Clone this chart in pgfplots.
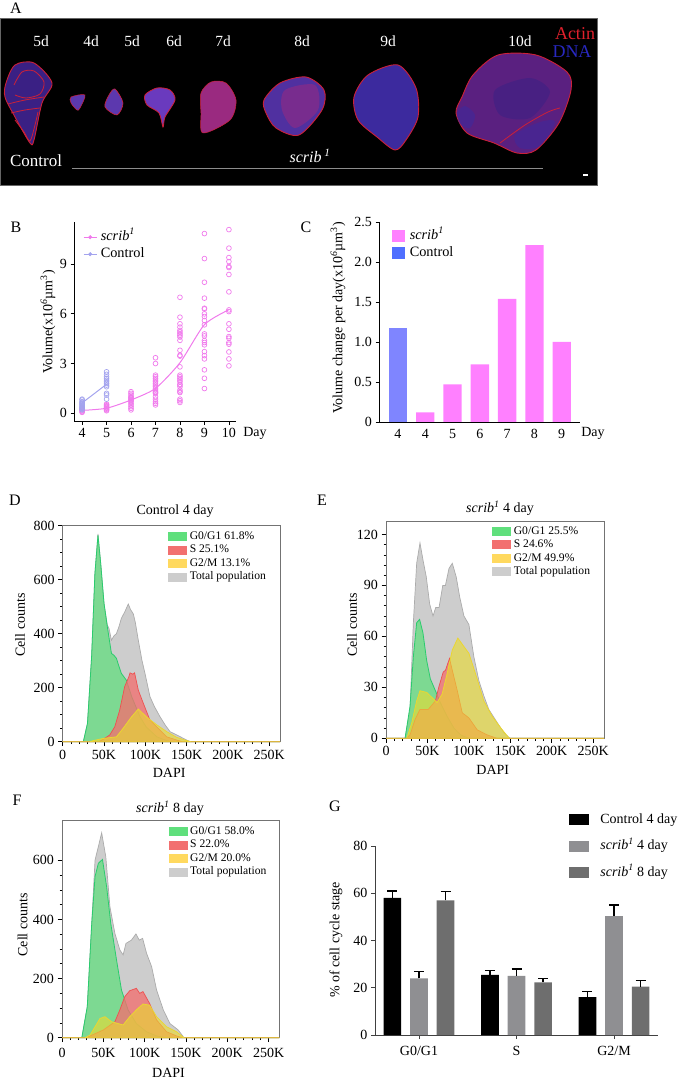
\documentclass[border=0pt]{standalone}
\usepackage{fontspec}
\setmainfont{Liberation Serif}
\usepackage{pgfplots}
\pgfplotsset{compat=1.18}

\definecolor{pinkl}{HTML}{F07AEC}
\definecolor{bluel}{HTML}{A3A3EE}
\definecolor{pinkb}{HTML}{FF80FF}
\definecolor{blueb}{HTML}{7F85FF}
\definecolor{bluesw}{HTML}{4F6FFF}
\definecolor{gL}{HTML}{5FDF7C}
\definecolor{rL}{HTML}{F27070}
\definecolor{yL}{HTML}{FFD95F}
\definecolor{yA}{HTML}{EADB30}
\definecolor{tL}{HTML}{CDCDCD}
\definecolor{gD}{HTML}{2BCB6E}
\definecolor{rD}{HTML}{EE5050}
\definecolor{yD}{HTML}{EBD630}
\definecolor{tD}{HTML}{ABABAB}
\definecolor{barB}{HTML}{8F8F92}
\definecolor{barC}{HTML}{6E6E6E}
\definecolor{edge}{HTML}{CC2038}
\definecolor{c0}{HTML}{3A2084}
\definecolor{c1}{HTML}{5C38AE}
\definecolor{c2}{HTML}{6A3ABE}
\definecolor{c3}{HTML}{9A2A80}
\definecolor{c4}{HTML}{5030A0}
\definecolor{c5}{HTML}{3C2A9E}
\definecolor{c6}{HTML}{5A2080}

\newcommand{\fs}[1]{\fontsize{#1}{#1}\selectfont}
\newcommand{\scrib}{\textit{scrib}\textsuperscript{\textit{1}}}

\pgfplotsset{
  panel/.style={
    scale only axis,
    /pgf/number format/assume math mode=true,
    tick label style={font=\fs{14}},
    label style={font=\fs{14}},
    legend cell align=left,
  },
  sw/.style 2 args={legend image code/.code={\fill[##1,draw=none] (0pt,-#2) rectangle (#1,#2);}},
  hist/.style={
    panel, xmin=0, xmax=263, ymin=0,
    xtick={0,50,100,150,200,250},
    xticklabels={0,50K,100K,150K,200K,250K},
    minor x tick num=4, minor y tick num=3,
    xtick pos=bottom, ytick pos=left, tick align=outside,
    axis line style={color=black!55, line width=.7pt},
    tick style={color=black, line width=.6pt},
    major tick length=4.5pt, minor tick length=2.5pt,
    xlabel={DAPI}, ylabel={Cell counts},
    clip=false, sw={19pt}{4.5pt},
    legend style={anchor=north west, draw=none, fill=none, inner sep=0pt,
      font=\fs{11.6}, row sep=3pt,
      nodes={text height=8pt, text depth=2.5pt, inner ysep=0pt, inner xsep=2.5pt}},
  },
  gfill/.style={fill=gL, fill opacity=.72, draw=gD, line width=.8pt},
  rfill/.style={fill=rL, fill opacity=.78, draw=rD, line width=.7pt},
  yfill/.style={fill=yA, fill opacity=.62, draw=yD, line width=.8pt},
  tfill/.style={fill=tL, draw=tD, line width=.7pt},
  blob/.style={smooth cycle, fill=#1, draw=edge, line width=.9pt},
  patch/.style={smooth cycle, fill=#1, fill opacity=.55, draw=none, forget plot},
  redline/.style={smooth, draw=edge, line width=.8pt, forget plot},
}

\begin{document}
\begin{tikzpicture}
\path[use as bounding box] (0pt,0pt) rectangle (680pt,1080pt);

% panel letters, page coordinates
\node[font=\fs{16}] at (16pt,1072pt) {A};
\node[font=\fs{16}] at (16pt,853pt) {B};
\node[font=\fs{16}] at (306pt,853pt) {C};
\node[font=\fs{16}] at (15pt,580pt) {D};
\node[font=\fs{16}] at (322pt,580pt) {E};
\node[font=\fs{16}] at (17pt,280pt) {F};
\node[font=\fs{16}] at (335pt,274pt) {G};

% A: micrograph strip, traced in pixel coordinates
\begin{axis}[
  at={(0pt,895pt)}, anchor=south west, scale only axis,
  width=597pt, height=167pt,
  xmin=0, xmax=597, ymin=18, ymax=185, y dir=reverse,
  ticks=none, axis line style={color=black!60},
  axis background/.style={fill=black},
]
\addplot[blob=c0] coordinates {(6,83)(15,65)(34,63)(52,83)(42,103)(34,140)(30,143)(15,117)(5,97)};
\addplot[redline] coordinates {(14,85)(22,72)(34,71)(44,82)(40,94)(26,98)(15,95)};
\addplot[redline] coordinates {(8,104)(25,100)(44,97)};
\addplot[redline] coordinates {(11,113)(25,110)(40,108)};
\addplot[redline] coordinates {(15,120)(24,132)(30,141)(35,125)(38,112)};
\addplot[blob=c1, line width=.5pt] coordinates {(71,97)(85,95)(80,108)(77,110)(71,103)};
\addplot[blob=c1, line width=.6pt] coordinates {(115,89)(123,103)(117,115)(105,107)(109,95)};
\addplot[blob=c2, line width=.8pt] coordinates {(145,95)(157,88)(170,90)(175,100)(165,117)(163,127)(159,113)(147,105)};
\addplot[blob=c3, line width=.5pt] coordinates {(201,93)(211,82)(226,83)(236,100)(230,120)(203,133)(201,113)};
\addplot[blob=c4] coordinates {(264,100)(280,83)(306,77)(324,90)(322,110)(299,135)(276,128)(266,113)};
\addplot[patch=c3] coordinates {(285,90)(315,85)(318,110)(295,128)(282,110)};
\addplot[blob=c5] coordinates {(354,97)(368,75)(398,65)(416,88)(418,117)(406,140)(395,150)(377,137)(358,120)};
\addplot[blob=c6] coordinates {(498,55)(536,55)(567,72)(571,90)(559,123)(536,150)(517,153)(494,143)(467,133)(456,113)(462,97)(473,75)};
\addplot[patch=c5] coordinates {(457,113)(465,106)(475,115)(470,128)(460,124)};
\addplot[patch=c5] coordinates {(515,135)(540,122)(555,122)(540,146)(520,148)};
\addplot[patch=c0] coordinates {(495,90)(530,78)(550,92)(530,118)(500,115)};
\addplot[redline] coordinates {(500,143)(525,125)(548,112)(560,108)};
\addplot[color=black!45, line width=.8pt] coordinates {(72,168)(543,168)};
\addplot[color=white, line width=1.2pt] coordinates {(583,175)(588,175)};
\foreach \lx/\lab in {41/5d,91/4d,132/5d,174/6d,223/7d,302/8d,388/9d,520/10d}{
  \edef\tmp{\noexpand\node[text=white,font=\noexpand\fs{15.5}] at (axis cs:\lx,41) {\lab};}\tmp
}
\definecolor{actin}{HTML}{E0202C}
\definecolor{dna}{HTML}{2828C0}
\node[text=actin,font=\fs{18}] at (axis cs:575,34) {Actin};
\node[text=dna,font=\fs{18}] at (axis cs:572,52) {DNA};
\node[text=white,font=\fs{17}] at (axis cs:36,161) {Control};
\node[text=white,font=\fs{16}] at (axis cs:310,156) {\textit{scrib}\,\textsuperscript{\textit{1}}};
\end{axis}

% B
\begin{axis}[
  panel, at={(74pt,658.5pt)}, anchor=south west,
  width=162pt, height=199.5pt,
  xmin=3.67, xmax=10.29, ymin=-0.5, ymax=11.55,
  xtick={4,5,6,7,8,9,10}, ytick={0,3,6,9},
  axis lines=left, axis line style={-, line width=.9pt},
  tick align=outside, tick style={color=black, line width=.8pt}, major tick length=3.5pt,
  ylabel={Volume(x10\textsuperscript{\textit{6}}µm\textsuperscript{3})},
  ylabel style={at={(axis description cs:-0.16,0.5)}, anchor=center},
  legend image code/.code={\draw[#1, line width=1.2pt] (0pt,0pt) -- (13pt,0pt); \fill[#1] (6.5pt,0pt) circle (1.8pt);},
  legend style={at={(axis description cs:0.055,0.96)}, anchor=north west, draw=none, fill=none,
    inner sep=0pt, font=\fs{14.3}, row sep=3pt,
    nodes={text height=10pt, text depth=4pt, inner ysep=0pt, inner xsep=3.5pt}},
]
\addlegendimage{color=pinkl}
\addlegendimage{color=bluel}
\addplot[only marks, mark=o, mark size=2.4pt, color=pinkl, mark options={line width=.7pt}, forget plot] coordinates {
(4,.3)(4,.25)(4,.2)(4,.15)(4,.1)(4,.05)
(5,.55)(5,.5)(5,.45)(5,.4)(5,.35)(5,.3)(5,.25)(5,.2)(5,.15)
(6,1.3)(6,1.2)(6,1.1)(6,1)(6,.95)(6,.9)(6,.85)(6,.8)(6,.75)(6,.7)(6,.6)(6,.5)(6,.4)(6,.3)(6,.2)
(7,3.35)(7,3)(7,2.3)(7,2.2)(7,2.1)(7,2)(7,1.9)(7,1.8)(7,1.7)(7,1.6)(7,1.5)(7,1.4)(7,1.3)(7,1.25)(7,1.2)(7,1)(7,.85)(7,.7)(7,.6)(7,.5)
(8,7)(8,5.8)(8,5.4)(8,5.2)(8,5)(8,4.9)(8,4.8)(8,4.7)(8,4.6)(8,4.4)(8,3.8)(8,3.5)(8,3.45)(8,2.8)(8,2.3)(8,2.2)(8,2.1)(8,2)(8,1.9)(8,1.75)(8,1.7)(8,1.6)(8,1.4)(8,1.3)(8,1.25)(8,.85)(8,.75)(8,.65)
(9,10.85)(9,9.34)(9,7.91)(9,6.95)(9,6.34)(9,6.3)(9,6)(9,5.84)(9,5.6)(9,5.34)(9,4.79)(9,4.67)(9,4.39)(9,4.27)(9,4.13)(9,3.72)(9,3.48)(9,3.28)(9,2.62)(9,2.11)(9,1.49)
(10,11.09)(10,9.97)(10,9.4)(10,9.16)(10,8.86)(10,8.8)(10,8.38)(10,7.33)(10,6.24)(10,6.14)(10,5.4)(10,5.07)(10,4.63)(10,4.53)(10,4.27)(10,4.17)(10,3.7)(10,3.28)(10,2.86)
};
\addplot[only marks, mark=o, mark size=2.4pt, color=bluel, mark options={line width=.7pt}, forget plot] coordinates {
(4,.85)(4,.8)(4,.7)(4,.65)(4,.6)(4,.55)(4,.5)(4,.45)(4,.4)(4,.35)(4,.3)(4,.25)(4,.2)
(5,2.5)(5,2.35)(5,2.2)(5,2.1)(5,2)(5,1.9)(5,1.8)(5,1.7)(5,1.6)(5,1.2)(5,1.1)(5,.85)
};
\addplot[color=pinkl, line width=1pt, smooth, tension=.4, forget plot] coordinates {(4,.17)(5,.3)(6,.8)(7,1.5)(8,3.05)(9,5.35)(10,6.25)};
\addplot[color=bluel, line width=1pt, forget plot] coordinates {(4,.62)(5,1.75)};
\legend{\scrib,Control}
\end{axis}
\node[font=\fs{14}] at (255pt,647pt) {Day};

% C
\begin{axis}[
  panel, at={(379pt,658pt)}, anchor=south west,
  width=201pt, height=200pt,
  xmin=-0.696, xmax=6.67, ymin=0, ymax=2.5,
  xtick={0,1,2,3,4,5,6}, xticklabels={4,4,5,6,7,8,9},
  ytick={0,0.5,1,1.5,2,2.5}, yticklabels={0,0.5,1.0,1.5,2.0,2.5},
  axis lines=left, axis line style={-, line width=.9pt},
  tick align=outside, tick style={color=black, line width=.8pt}, major tick length=3.5pt,
  xtick style={draw=none},
  ylabel={Volume change per day(x10\textsuperscript{\textit{6}}µm\textsuperscript{3})},
  ylabel style={at={(axis description cs:-0.204,0.52)}, anchor=center},
  ybar, bar width=18.3pt, bar shift=0pt,
  sw={13pt}{6pt},
  legend style={at={(axis description cs:0.065,0.965)}, anchor=north west, draw=none, fill=none,
    inner sep=0pt, font=\fs{14.3}, row sep=3pt,
    nodes={text height=10pt, text depth=4pt, inner ysep=0pt, inner xsep=4.5pt}},
]
\addlegendimage{fill=pinkb}
\addlegendimage{fill=bluesw}
\addplot[fill=blueb, draw=none, forget plot] coordinates {(0,1.18)};
\addplot[fill=pinkb, draw=none, forget plot] coordinates {(1,.12)(2,.47)(3,.72)(4,1.54)(5,2.21)(6,1)};
\legend{\scrib,Control}
\end{axis}
\node[font=\fs{14}] at (593pt,647pt) {Day};

% D
\begin{axis}[
  hist, at={(62.7pt,338.3pt)}, anchor=south west,
  width=217.3pt, height=216pt, ymax=800,
  ytick={0,200,400,600,800},
  ylabel style={at={(axis description cs:-0.196,0.54)}, anchor=center},
  xlabel style={at={(axis description cs:0.49,-0.145)}, anchor=center},
  legend style={at={(axis description cs:0.485,0.975)}},
]
\addlegendimage{fill=gL}
\addlegendimage{fill=rL}
\addlegendimage{fill=yL}
\addlegendimage{fill=tL}
\addplot[tfill, forget plot] coordinates {(0,0)(25,0)(30,68)(35,315)(39,623)(42.7,770)(46,660)(50,512)(54,432)(56,420)(59,376)(62,392)(65,400)(68,425)(71,457)(75,480)(79.4,510)(82,490)(85.5,473)(88,440)(91.5,376)(96,300)(99.6,253)(105.6,167)(111,130)(117.7,93)(124,62)(130,37)(140,22)(150,6)(155,0)(263,0)} --cycle;
\addplot[gfill, forget plot] coordinates {(0,0)(25,0)(30,68)(35,315)(39,623)(42.7,765)(46,660)(50,512)(54,426)(59,327)(62,320)(65,309)(68,280)(71,253)(77,228)(83.5,167)(93.5,93)(101,55)(114,18)(126,4)(132,0)(263,0)} --cycle;
\addplot[rfill, forget plot] coordinates {(0,0)(44,0)(49,9)(57,25)(63,55)(69,117)(75,204)(80,240)(81.5,255)(85,250)(87,255)(91.5,191)(97.6,142)(105.6,80)(113.7,55)(126,18)(138,6)(145,0)(263,0)} --cycle;
\addplot[yfill, forget plot] coordinates {(0,0)(33,0)(37,4)(49,12)(65,18)(73,49)(83.5,93)(91.5,121)(101,93)(114,62)(126,37)(138,16)(150,4)(155,0)(263,0)} --cycle;
\legend{G0/G1 61.8\%,S 25.1\%,G2/M 13.1\%,Total population}
\end{axis}
\node[font=\fs{14}] at (175pt,568.5pt) {Control 4 day};

% E
\begin{axis}[
  hist, at={(386pt,341.7pt)}, anchor=south west,
  width=218pt, height=216.6pt, ymax=127.5,
  ytick={0,30,60,90,120}, minor y tick num=4,
  ylabel style={at={(axis description cs:-0.156,0.523)}, anchor=center},
  xlabel style={at={(axis description cs:0.49,-0.145)}, anchor=center},
  legend style={at={(axis description cs:0.487,0.98)}},
]
\addlegendimage{fill=gL}
\addlegendimage{fill=rL}
\addlegendimage{fill=yL}
\addlegendimage{fill=tL}
\addplot[tfill, forget plot] coordinates {(0,0)(23,0)(29,17)(33,68)(37,103)(41,115)(44.6,105)(48.6,95)(52.7,79)(56.7,72)(60,77)(64,77)(68.5,90)(71.7,90)(76,100)(80,103)(84.7,95)(89,83)(94,72)(100,67)(106,48)(112,34)(118,25)(124,17)(134.5,9)(142.6,3)(149.5,0)(263,0)} --cycle;
\addplot[gfill, forget plot] coordinates {(0,0)(23,0)(29,19)(33,48)(37,68)(40.5,70)(44.6,62)(49,46)(53.5,35)(59.6,28)(65.6,21)(73.7,13)(82,6)(90,2)(100,0)(263,0)} --cycle;
\addplot[rfill, forget plot] coordinates {(0,0)(25,0)(29,2)(35,11)(41,17)(51,17)(59.6,22)(63.6,30)(69,39)(71.7,40)(76.6,47)(80,40)(86,28)(92,15)(100,12)(110,5)(122,2)(134,0)(263,0)} --cycle;
\addplot[yfill, forget plot] coordinates {(0,0)(25,0)(31,9)(37,22)(41,28)(49,27)(55.5,24)(61.6,21)(67.7,26)(73.7,38)(80,52)(86.7,59)(94,54)(100,50)(108,38)(118,22)(128,13)(138.6,6)(148.7,0)(263,0)} --cycle;
\legend{G0/G1 25.5\%,S 24.6\%,G2/M 49.9\%,Total population}
\end{axis}
\node[font=\fs{14}] at (500pt,572pt) {\scrib{} 4 day};

% F
\begin{axis}[
  hist, at={(62pt,42.3pt)}, anchor=south west,
  width=217.3pt, height=217pt, ymax=734,
  ytick={0,200,400,600},
  xticklabel style={yshift=-2pt},
  ylabel style={at={(axis description cs:-0.181,0.52)}, anchor=center},
  xlabel style={at={(axis description cs:0.49,-0.163)}, anchor=center},
  legend style={at={(axis description cs:0.49,0.975)}},
]
\addlegendimage{fill=gL}
\addlegendimage{fill=rL}
\addlegendimage{fill=yL}
\addlegendimage{fill=tL}
\addplot[tfill, forget plot] coordinates {(0,0)(24,0)(30.6,105)(36,387)(40,601)(44,646)(48,693)(53,612)(58,443)(64,353)(70,297)(74,280)(77.4,319)(84,330)(89.5,351)(93.5,330)(97.6,336)(102.4,285)(108.5,240)(114.5,161)(122.6,94)(130.6,48)(140.7,26)(147.6,0)(263,0)} --cycle;
\addplot[gfill, forget plot] coordinates {(0,0)(24,0)(30.6,105)(36,387)(40,545)(44,590)(49,603)(54,511)(59,387)(66,263)(72,161)(80,94)(90,48)(102.4,20)(114.5,6)(126,0)(263,0)} --cycle;
\addplot[rfill, forget plot] coordinates {(0,0)(28,0)(34,6)(50,26)(64,54)(70,94)(76,139)(82,159)(90,167)(94,150)(98,156)(106,116)(114.5,60)(126.6,20)(138.7,6)(145,0)(263,0)} --cycle;
\addplot[yfill, forget plot] coordinates {(0,0)(28,0)(34,9)(40,37)(46,65)(52,71)(60,54)(74,43)(82,71)(90,94)(98,114)(106,110)(114.5,71)(126.6,37)(138.7,20)(147.6,0)(263,0)} --cycle;
\legend{G0/G1 58.0\%,S 22.0\%,G2/M 20.0\%,Total population}
\end{axis}
\node[font=\fs{14}] at (170pt,272pt) {\scrib{} 8 day};

% G
\begin{axis}[
  panel, at={(375pt,45pt)}, anchor=south west,
  width=283pt, height=189pt,
  xmin=-0.451, xmax=2.451, ymin=0, ymax=80,
  xtick={0,1,2}, xticklabels={G0/G1,S,G2/M}, ytick={0,20,40,60,80},
  xticklabel style={yshift=-4pt},
  axis lines=left, axis line style={-, line width=.8pt, color=black!75},
  tick align=outside, tick style={color=black!75, line width=.7pt}, major tick length=4pt,
  ylabel={\% of cell cycle stage},
  ylabel style={at={(axis description cs:-0.138,0.503)}, anchor=center},
  ybar, bar width=17.7pt,
  sw={20pt}{5.5pt},
  legend style={at={(axis description cs:0.686,1.175)}, anchor=north west, draw=none, fill=none,
    inner sep=0pt, font=\fs{14}, row sep=13.5pt,
    nodes={text height=10pt, text depth=3pt, inner ysep=0pt, inner xsep=11pt}},
  error bars/y dir=plus, error bars/y explicit,
  error bars/error bar style={line width=1.3pt, color=black},
  error bars/error mark options={rotate=90, mark size=5pt, line width=1.3pt, color=black},
]
\addlegendimage{fill=black}
\addlegendimage{fill=barB}
\addlegendimage{fill=barC}
\addplot[fill=black, draw=none, bar shift=-26.6pt, forget plot] coordinates {(0,58) +- (0,3) (1,25.5) +- (0,1.7) (2,16) +- (0,2.5)};
\addplot[fill=barB, draw=none, bar shift=0pt, forget plot] coordinates {(0,24) +- (0,2.8) (1,25) +- (0,3) (2,50.3) +- (0,4.7)};
\addplot[fill=barC, draw=none, bar shift=26.6pt, forget plot] coordinates {(0,57) +- (0,3.8) (1,22.3) +- (0,1.7) (2,20.5) +- (0,2.5)};
\legend{Control 4 day,\scrib{} 4 day,\scrib{} 8 day}
\end{axis}
\end{tikzpicture}
\end{document}
